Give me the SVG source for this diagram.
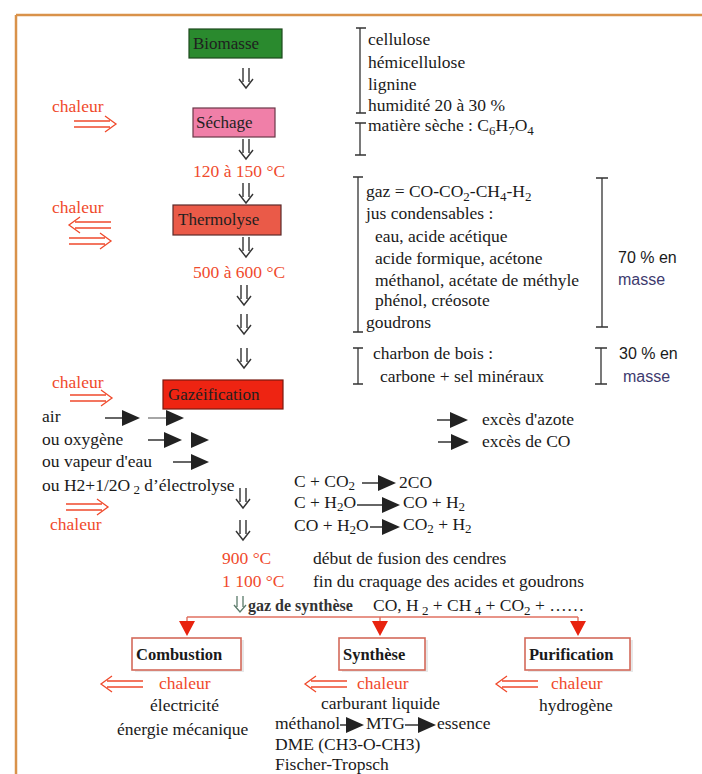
<svg xmlns="http://www.w3.org/2000/svg" width="702" height="774" viewBox="0 0 702 774">
<defs>
<style>
text{font-family:"Liberation Serif","Times New Roman",serif;font-size:17.5px;fill:#1a1a1a}
.red{fill:#f04a2c}
.sans{font-family:"Liberation Sans",Arial,sans-serif;font-size:16px}
.masse{fill:#3d3a6e}
.lbl{font-size:17px;fill:#1f1f1f}
.bold{font-weight:bold;font-size:16.5px}
.sub{font-size:13px}
.dar{fill:none;stroke:#333;stroke-width:1.4}
.rar{fill:none;stroke:#f04a2c;stroke-width:1.3}
.brk{fill:none;stroke:#333;stroke-width:1.3}
.tri{fill:#222}
.ln{stroke:#333;stroke-width:1.5}
.rtri{fill:#e8230f}
.bbox{fill:#fff;stroke:#d46a5a;stroke-width:1.6}
</style>
<g id="dn"><path class="dar" d="M-3,0V14M3,0V14M-7,11L0,20L7,11"/></g>
<g id="rr"><path class="rar" d="M0,-3H36M0,3H36M31,-8L42,0L31,8"/></g>
<g id="rl"><path class="rar" d="M6,-3H42M6,3H42M11,-8L0,0L11,8"/></g>
<polygon id="ft" points="0,-8 18,0 0,8"/>
</defs>
<rect x="0" y="0" width="702" height="774" fill="#fff"/>
<path d="M16,15H702M16,15V774" fill="none" stroke="#d9924a" stroke-width="2.5"/>

<g id="biomasse">
<rect x="189" y="29" width="93" height="29" fill="#2a8a2e" stroke="#1d4a1d" stroke-width="1.2"/>
<text x="193" y="49" class="lbl">Biomasse</text>
</g>
<g id="sechage">
<rect x="193" y="108" width="82" height="29" fill="#f07fa8" stroke="#6a3848" stroke-width="1.2"/>
<text x="196" y="128" class="lbl">Séchage</text>
</g>
<g id="thermolyse">
<rect x="173" y="205" width="108" height="30" fill="#ea5a48" stroke="#5a2a2a" stroke-width="1.2"/>
<text x="178" y="225" class="lbl">Thermolyse</text>
</g>
<g id="gazeification">
<rect x="163" y="380" width="120" height="29" fill="#ee2412" stroke="#7a1a10" stroke-width="1.2"/>
<text x="168" y="400" class="lbl">Gazéification</text>
</g>
<g id="combustion">
<rect x="135" y="640" width="109" height="32" fill="#e8e8e8"/>
<rect x="132" y="638" width="109" height="32" class="bbox"/>
<text x="136" y="660" class="bold">Combustion</text>
</g>
<g id="synthese">
<rect x="342" y="640" width="86" height="32" fill="#e8e8e8"/>
<rect x="339" y="638" width="86" height="32" class="bbox"/>
<text x="343" y="660" class="bold">Synthèse</text>
</g>
<g id="purification">
<rect x="528" y="640" width="105" height="32" fill="#e8e8e8"/>
<rect x="525" y="638" width="105" height="32" class="bbox"/>
<text x="529" y="660" class="bold">Purification</text>
</g>

<g id="connectors">
<use href="#dn" x="246" y="68"/>
<use href="#dn" x="246" y="139"/>
<use href="#dn" x="246" y="183"/>
<use href="#dn" x="246" y="237"/>
<use href="#dn" x="244" y="285"/>
<use href="#dn" x="244" y="314"/>
<use href="#dn" x="244" y="348"/>
<use href="#dn" x="243" y="488"/>
<use href="#dn" x="243" y="520"/>
<path d="M237,596V607M243,596V607M234,605L240,612L246,605" fill="none" stroke="#5a7a6a" stroke-width="1.3"/>
<path d="M187,617H578" stroke="#e07060" stroke-width="1.6" fill="none"/>
<path d="M187,617V622M380,617V622M578,617V622" stroke="#e07060" stroke-width="1.4"/>
<polygon class="rtri" points="179,621 195,621 187,636"/>
<polygon class="rtri" points="372,621 388,621 380,636"/>
<polygon class="rtri" points="570,621 586,621 578,636"/>
</g>

<g id="heat">
<text x="52" y="112" class="red">chaleur</text>
<use href="#rr" x="74" y="124"/>
<text x="52" y="213" class="red">chaleur</text>
<use href="#rl" x="69" y="225"/>
<use href="#rr" x="69" y="241"/>
<text x="52" y="388" class="red">chaleur</text>
<use href="#rr" x="70" y="398"/>
<use href="#rr" x="66" y="507"/>
<text x="50" y="530" class="red">chaleur</text>
<text x="193" y="177" class="red">120 à 150 °C</text>
<text x="193" y="278" class="red">500 à 600 °C</text>
<text x="222" y="564" class="red">900 °C</text>
<text x="222" y="587" class="red">1 100 °C</text>
</g>

<g id="composition">
<path class="brk" d="M360,28V113M356,28H366M356,113H366"/>
<text x="368" y="45">cellulose</text>
<text x="368" y="68">hémicellulose</text>
<text x="368" y="90">lignine</text>
<text x="368" y="111">humidité 20 à 30 %</text>
<path class="brk" d="M360,123V155M355,123H366M355,155H366"/>
<text x="368" y="131">matière sèche : C<tspan class="sub" dy="4">6</tspan><tspan dy="-4">H</tspan><tspan class="sub" dy="4">7</tspan><tspan dy="-4">O</tspan><tspan class="sub" dy="4">4</tspan></text>
<path class="brk" d="M358,177V332M353,177H363M353,332H363"/>
<text x="366" y="197">gaz = CO-CO<tspan class="sub" dy="4">2</tspan><tspan dy="-4">-CH</tspan><tspan class="sub" dy="4">4</tspan><tspan dy="-4">-H</tspan><tspan class="sub" dy="4">2</tspan></text>
<text x="366" y="219">jus condensables :</text>
<text x="375" y="242">eau, acide acétique</text>
<text x="375" y="264">acide formique, acétone</text>
<text x="375" y="286">méthanol, acétate de méthyle</text>
<text x="375" y="306">phénol, créosote</text>
<text x="366" y="328">goudrons</text>
<path class="brk" d="M602,178V327M596,178H608M596,327H608"/>
<text x="618" y="263" class="sans">70 % en</text>
<text x="618" y="285" class="sans masse">masse</text>
<path class="brk" d="M358,348V384M353,348H363M353,384H363"/>
<text x="373" y="359">charbon de bois :</text>
<text x="380" y="382">carbone + sel minéraux</text>
<path class="brk" d="M601,348V384M595,348H607M595,384H607"/>
<text x="619" y="359" class="sans">30 % en</text>
<text x="623" y="382" class="sans masse">masse</text>
</g>

<g id="inputs">
<text x="42" y="422">air</text>
<path class="ln" d="M105,418H124"/>
<use href="#ft" class="tri" x="122" y="418"/>
<path d="M148,418H168" stroke="#888" stroke-width="1.5"/>
<use href="#ft" class="tri" x="166" y="418"/>
<text x="42" y="445">ou oxygène</text>
<path class="ln" d="M148,440H166"/>
<use href="#ft" class="tri" x="164" y="440"/>
<use href="#ft" class="tri" x="191" y="440"/>
<text x="42" y="467">ou vapeur d'eau</text>
<path class="ln" d="M173,462H193"/>
<use href="#ft" class="tri" x="191" y="462"/>
<text x="42" y="491">ou H2+1/2O<tspan class="sub" dy="3"> 2</tspan><tspan dy="-3"> d’électrolyse</tspan></text>
<path class="ln" d="M437,420H452"/>
<use href="#ft" class="tri" x="450" y="420"/>
<text x="482" y="425">excès d'azote</text>
<path class="ln" d="M438,442H453"/>
<use href="#ft" class="tri" x="451" y="442"/>
<text x="482" y="447">excès de CO</text>
</g>

<g id="reactions">
<text x="294" y="487">C + CO<tspan class="sub" dy="3">2</tspan></text>
<path class="ln" d="M362,483H380"/>
<use href="#ft" class="tri" x="378" y="483"/>
<text x="399" y="488">2CO</text>
<text x="294" y="508">C + H<tspan class="sub" dy="3">2</tspan><tspan dy="-3">O</tspan></text>
<path class="ln" d="M357,505H384"/>
<use href="#ft" class="tri" x="382" y="505"/>
<text x="403" y="508">CO + H<tspan class="sub" dy="3">2</tspan></text>
<text x="294" y="531">CO + H<tspan class="sub" dy="3">2</tspan><tspan dy="-3">O</tspan></text>
<path class="ln" d="M370,527H384"/>
<use href="#ft" class="tri" x="382" y="527"/>
<text x="403" y="530">CO<tspan class="sub" dy="3">2</tspan><tspan dy="-3"> + H</tspan><tspan class="sub" dy="3">2</tspan></text>
<text x="313" y="564">début de fusion des cendres</text>
<text x="313" y="587">fin du craquage des acides et goudrons</text>
<text x="248" y="611" class="bold" style="font-size:16px;fill:#333">gaz de synthèse</text>
<text x="373" y="611">CO, H<tspan class="sub" dy="4"> 2</tspan><tspan dy="-4"> + CH</tspan><tspan class="sub" dy="4"> 4</tspan><tspan dy="-4"> + CO</tspan><tspan class="sub" dy="4">2</tspan><tspan dy="-4"> + ……</tspan></text>
</g>

<g id="outputs">
<use href="#rl" x="101" y="684"/>
<text x="159" y="689" class="red">chaleur</text>
<use href="#rl" x="305" y="684"/>
<text x="357" y="689" class="red">chaleur</text>
<use href="#rl" x="496" y="684"/>
<text x="551" y="689" class="red">chaleur</text>
<text x="150" y="711">électricité</text>
<text x="117" y="735">énergie mécanique</text>
<text x="321" y="709">carburant liquide</text>
<text x="275" y="729">méthanol</text>
<path class="ln" d="M340,725H348"/>
<use href="#ft" class="tri" x="346" y="725"/>
<text x="366" y="729">MTG</text>
<path class="ln" d="M405,725H420"/>
<use href="#ft" class="tri" x="418" y="725"/>
<text x="437" y="729">essence</text>
<text x="275" y="750">DME (CH3-O-CH3)</text>
<text x="275" y="770">Fischer-Tropsch</text>
<text x="539" y="711">hydrogène</text>
</g>
</svg>
